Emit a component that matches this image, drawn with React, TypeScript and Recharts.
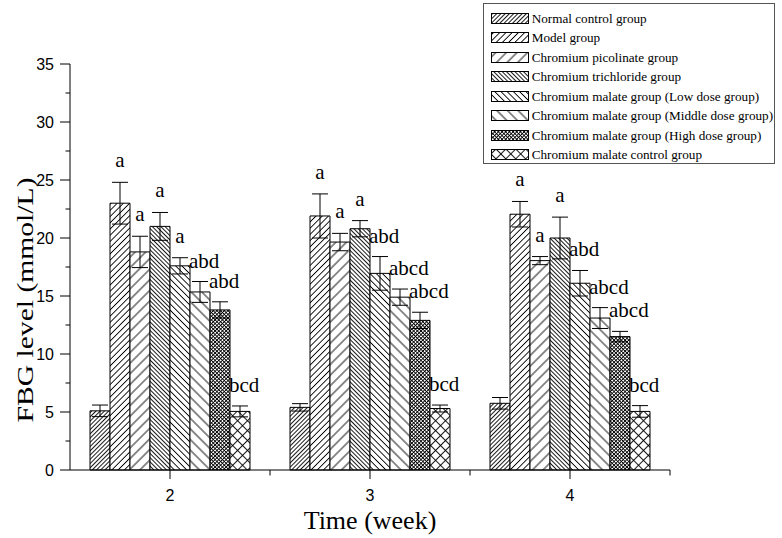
import React from 'react';
import { BarChart, Bar, XAxis, YAxis, ErrorBar, LabelList, Legend } from 'recharts';

const weeks = ['2', '3', '4'];
const groupNames = [
  'Normal control group',
  'Model group',
  'Chromium picolinate group',
  'Chromium trichloride group',
  'Chromium malate group (Low dose group)',
  'Chromium malate group (Middle dose group)',
  'Chromium malate group (High dose group)',
  'Chromium malate control group',
];

const normalMean = [5.1, 5.4, 5.75];
const modelMean = [23.0, 21.9, 22.05];
const picolinateMean = [18.8, 19.65, 18.05];
const trichlorideMean = [21.0, 20.8, 20.0];
const lowMean = [17.6, 16.95, 16.1];
const middleMean = [15.35, 14.9, 13.1];
const highMean = [13.8, 12.9, 11.5];
const controlMean = [5.05, 5.3, 5.05];

const normalErr = [0.5, 0.32, 0.5];
const modelErr = [1.8, 1.9, 1.1];
const picolinateErr = [1.35, 0.75, 0.35];
const trichlorideErr = [1.2, 0.7, 1.8];
const lowErr = [0.7, 1.45, 1.1];
const middleErr = [0.9, 0.7, 0.9];
const highErr = [0.7, 0.7, 0.45];
const controlErr = [0.47, 0.3, 0.5];

const normalSig = ['', '', ''];
const modelSig = ['a', 'a', 'a'];
const picolinateSig = ['a', 'a', 'a'];
const trichlorideSig = ['a', 'a', 'a'];
const lowSig = ['a', 'abd', 'abd'];
const middleSig = ['abd', 'abcd', 'abcd'];
const highSig = ['abd', 'abcd', 'abcd'];
const controlSig = ['bcd', 'bcd', 'bcd'];

const yTicks = [0, 2.5, 5, 7.5, 10, 12.5, 15, 17.5, 20, 22.5, 25, 27.5, 30, 32.5, 35];

const means = [normalMean, modelMean, picolinateMean, trichlorideMean, lowMean, middleMean, highMean, controlMean];
const errs = [normalErr, modelErr, picolinateErr, trichlorideErr, lowErr, middleErr, highErr, controlErr];
const sigs = [normalSig, modelSig, picolinateSig, trichlorideSig, lowSig, middleSig, highSig, controlSig];

const data = weeks.map((w, i) => {
  const row: Record<string, any> = { week: w };
  means.forEach((m, g) => {
    row['g' + g] = m[i];
    row['e' + g] = errs[g][i];
    row['s' + g] = sigs[g][i];
  });
  return row;
});

const SERIF = '"Liberation Serif", "Times New Roman", serif';
const SANS = '"Liberation Sans", Arial, sans-serif';

const W = 782;
const H = 538;
const M = { top: 64, right: 112, bottom: 0, left: 0 };
const Y_W = 70;
const X_H = 68;
const PLOT_W = W - M.left - M.right - Y_W;
const HALF_BAND = PLOT_W / weeks.length / 2;

type PatSpec = { id: string; size: number; angle: number; cross: boolean; sw: number };
const patterns: PatSpec[] = [
  { id: 'p0', size: 3, angle: 45, cross: false, sw: 0.9 },
  { id: 'p1', size: 4.4, angle: 45, cross: false, sw: 0.9 },
  { id: 'p2', size: 7.5, angle: 45, cross: false, sw: 0.9 },
  { id: 'p3', size: 3, angle: -45, cross: false, sw: 0.9 },
  { id: 'p4', size: 4.4, angle: -45, cross: false, sw: 0.9 },
  { id: 'p5', size: 7.5, angle: -45, cross: false, sw: 0.9 },
  { id: 'p6', size: 2.6, angle: 45, cross: true, sw: 0.9 },
  { id: 'p7', size: 7, angle: 45, cross: true, sw: 0.9 },
];

const PatternDefs = () => (
  <defs>
    {patterns.map((p) => (
      <pattern
        key={p.id}
        id={p.id}
        patternUnits="userSpaceOnUse"
        width={p.size}
        height={p.size}
        patternTransform={`rotate(${p.angle})`}
      >
        <rect width={p.size} height={p.size} fill="#fff" />
        <line x1={p.size / 2} y1={0} x2={p.size / 2} y2={p.size} stroke="#000" strokeWidth={p.sw} />
        {p.cross && (
          <line x1={0} y1={p.size / 2} x2={p.size} y2={p.size / 2} stroke="#000" strokeWidth={p.sw} />
        )}
      </pattern>
    ))}
  </defs>
);

const YTick = (props: any) => {
  const { x, y, payload } = props;
  const v = payload.value;
  const major = Math.abs(v % 5) < 1e-6;
  return (
    <g>
      <line x1={x - (major ? 10 : 4.5)} y1={y} x2={x} y2={y} stroke="#000" strokeWidth={1} />
      {major && (
        <text x={x - 16} y={y} dy="0.36em" textAnchor="end" fontFamily={SANS} fontSize={16} fill="#000">
          {v}
        </text>
      )}
    </g>
  );
};

const XTick = (props: any) => {
  const { x, y, payload } = props;
  return (
    <g>
      <line x1={x} y1={y} x2={x} y2={y + 9} stroke="#000" strokeWidth={1} />
      <line x1={x + HALF_BAND} y1={y} x2={x + HALF_BAND} y2={y + 5.5} stroke="#000" strokeWidth={1} />
      <text x={x} y={y + 31} textAnchor="middle" fontFamily={SANS} fontSize={16} fill="#000">
        {payload.value}
      </text>
    </g>
  );
};

const makeLabel = (g: number) => (props: any) => {
  const { x, y, width, height, value, index } = props;
  if (!value) return null;
  const mean = means[g][index];
  const err = errs[g][index];
  const pxPerUnit = Number(height) / mean;
  const top = Number(y) - err * pxPerUnit;
  const single = String(value).length === 1;
  return (
    <text
      x={single ? Number(x) + Number(width) / 2 : Number(x) - 1}
      y={top - (single ? 15 : 14)}
      textAnchor={single ? 'middle' : 'start'}
      fontFamily={SERIF}
      fontSize={21}
      fill="#000"
    >
      {value}
    </text>
  );
};

const renderLegend = () => (
  <div
    style={{
      boxSizing: 'border-box',
      width: 292,
      height: 161,
      border: '1px solid #555',
      background: '#fff',
      paddingTop: 4.5,
      paddingLeft: 6.7,
      fontFamily: SERIF,
      fontSize: 13.2,
      color: '#000',
    }}
  >
    {groupNames.map((name, i) => (
      <div key={i} style={{ display: 'flex', alignItems: 'center', height: 19.5, whiteSpace: 'nowrap' }}>
        <svg width={39} height={11} style={{ display: 'block', flex: 'none' }}>
          <rect x={0.5} y={0.5} width={37} height={10} fill={`url(#p${i})`} stroke="#000" strokeWidth={1} />
        </svg>
        <span style={{ marginLeft: 2, lineHeight: '19.5px' }}>{name}</span>
      </div>
    ))}
  </div>
);

const YTitle = () => (
  <text
    x={33}
    y={300}
    transform="rotate(-90 33 300)"
    textAnchor="middle"
    fontFamily={SERIF}
    fontSize={23}
    textLength={245}
    lengthAdjust="spacingAndGlyphs"
    fill="#000"
  >
    FBG level (mmol/L)
  </text>
);

const XTitle = () => (
  <text x={370} y={529} textAnchor="middle" fontFamily={SERIF} fontSize={26} fill="#000">
    Time (week)
  </text>
);

export default function App() {
  return (
    <div style={{ position: 'absolute', left: 0, top: 0, width: W, height: H, background: '#fff' }}>
      <BarChart width={W} height={H} data={data} margin={M} barCategoryGap="10%" barGap={0}>
        <PatternDefs />
        <XAxis
          dataKey="week"
          height={X_H}
          tickSize={0}
          tickMargin={0}
          tickLine={false}
          axisLine={{ stroke: '#000', strokeWidth: 1 }}
          tick={<XTick />}
          interval={0}
          label={{ content: () => <XTitle /> }}
        />
        <YAxis
          type="number"
          domain={[0, 35]}
          ticks={yTicks}
          interval={0}
          width={Y_W}
          tickSize={0}
          tickMargin={0}
          tickLine={false}
          axisLine={{ stroke: '#000', strokeWidth: 1 }}
          tick={<YTick />}
          label={{ content: () => <YTitle /> }}
        />
        <Legend
          layout="vertical"
          align="center"
          verticalAlign="middle"
          wrapperStyle={{ left: 483, top: 3, width: 292, height: 161 }}
          content={renderLegend}
        />
        {groupNames.map((name, g) => (
          <Bar
            key={g}
            dataKey={'g' + g}
            name={name}
            fill={`url(#p${g})`}
            stroke="#000"
            strokeWidth={1}
            isAnimationActive={false}
          >
            <ErrorBar dataKey={'e' + g} width={8} stroke="#000" strokeWidth={1} />
            <LabelList dataKey={'s' + g} content={makeLabel(g)} />
          </Bar>
        ))}
      </BarChart>
    </div>
  );
}
